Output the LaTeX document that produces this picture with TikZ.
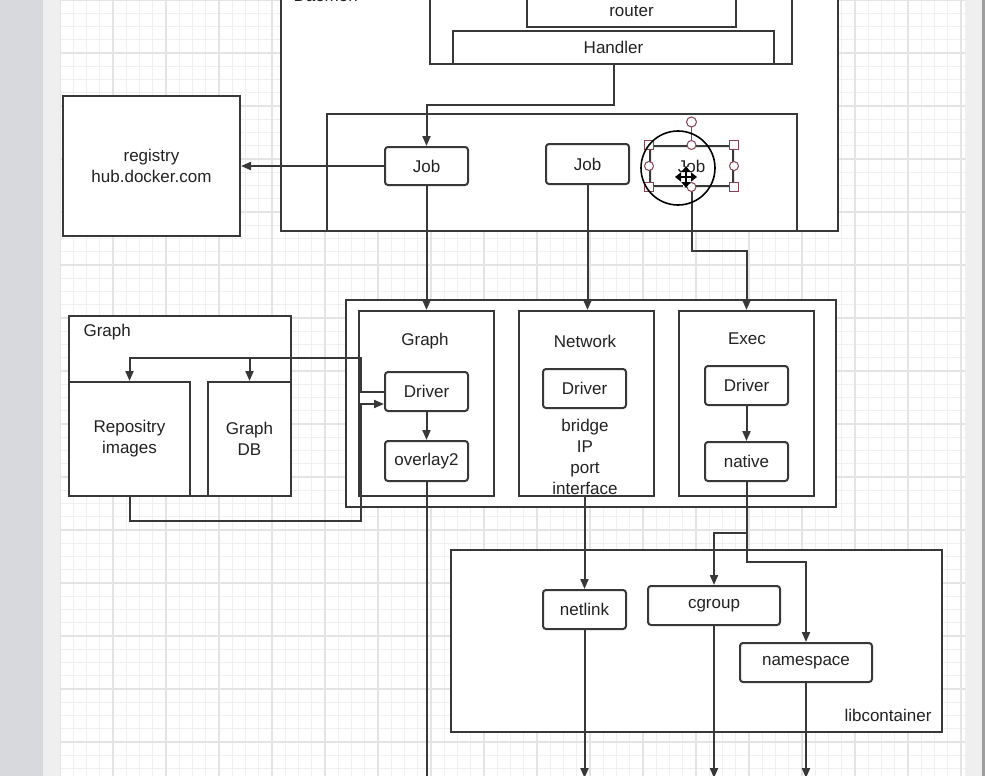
\documentclass[tikz,border=0pt]{standalone}
\usepackage{fontspec}
\setmainfont{Liberation Sans}
\usetikzlibrary{arrows.meta,calc}
\definecolor{ln}{HTML}{383838}
\definecolor{tx}{HTML}{222222}
\definecolor{hd}{HTML}{8A4050}
\definecolor{gminor}{HTML}{F0F0F0}
\definecolor{gmajor}{HTML}{E4E4E4}
\definecolor{sidegrey}{HTML}{D8D9DD}
\definecolor{strip}{HTML}{EFEFEF}
\begin{document}
\begin{tikzpicture}[x=1pt,y=-1pt,
  font=\fontsize{17}{21}\selectfont, text=tx,
  cont/.style={draw=ln, line width=2pt, fill=white, inner sep=0pt},
  box/.style={draw=ln, line width=2pt, fill=white, rounded corners=3pt, inner sep=0pt},
  wire/.style={draw=ln, line width=2pt},
  arr/.style={draw=ln, line width=2pt, -{Triangle[length=10pt,width=8pt]}},
  hsq/.style={draw=hd, fill=white, line width=1pt, minimum size=9pt, inner sep=0pt},
  hci/.style={draw=hd, fill=white, line width=1pt, circle, minimum size=9pt, inner sep=0pt}]
\useasboundingbox (0,0) rectangle (985,776);
\clip (0,0) rectangle (985,776);
% background
\fill[white] (0,0) rectangle (985,776);
\fill[sidegrey] (0,0) rectangle (43,776);
\fill[strip] (43,0) rectangle (60,776);
\fill[strip] (965,0) rectangle (982,776);
\fill[black!38] (982,0) rectangle (985,776);
\begin{scope}
\clip (60,0) rectangle (965,776);
\foreach \i in {0,...,68} {\draw[gminor, line width=0.8pt] ({60+13.25*\i},0) -- ++(0,776);}
\foreach \i in {0,...,59} {\draw[gminor, line width=0.8pt] (60,{13.25*\i}) -- ++(905,0);}
\foreach \i in {0,...,17} {\draw[gmajor, line width=1.1pt] ({60+53*\i},0) -- ++(0,776);}
\foreach \i in {0,...,14} {\draw[gmajor, line width=1.1pt] (60,{53*\i}) -- ++(905,0);}
\end{scope}

% Daemon
\node[cont, minimum width=557pt, minimum height=291pt] (daemon) at (559.5,85.5) {};
\node[anchor=base west] (daemonlbl) at (290,2) {Daemon};
\node[cont, minimum width=362pt, minimum height=104pt] (rcont) at (611,12) {};
\node[cont, minimum width=209pt, minimum height=47pt] (router) at (631.5,3.5) {};
\node (routerlbl) at (631.5,11) {router};
\node[cont, minimum width=321pt, minimum height=33pt] (handler) at (613.5,47.5) {Handler};
\node[cont, minimum width=470pt, minimum height=117pt] (jcont) at (562,172.5) {};
\node[box, minimum width=83pt, minimum height=38pt] (job1) at (426.5,166) {Job};
\node[box, minimum width=83pt, minimum height=40pt] (job2) at (587.5,164) {Job};
\node[box, minimum width=83pt, minimum height=40pt] (job3) at (691.5,166) {Job};

% registry
\node[cont, minimum width=177pt, minimum height=140pt, align=center] (registry) at (151.5,166) {registry\\hub.docker.com};

% left Graph container
\node[cont, minimum width=222pt, minimum height=180pt] (gcont) at (180,406) {};
\node[anchor=west] (gcontlbl) at (80,332) {Graph};
\node[cont, minimum width=121pt, minimum height=114pt, align=center] (repo) at (129.5,439) {Repositry\\images};
\node[cont, minimum width=83pt, minimum height=114pt, align=center] (gdb) at (249.5,439) {Graph\\DB};

% drivers container
\node[cont, minimum width=490pt, minimum height=207pt] (big) at (591,403.5) {};
\node[cont, minimum width=135pt, minimum height=185pt] (gbox) at (426.5,403.5) {};
\node[cont, minimum width=135pt, minimum height=185pt] (nbox) at (586.5,403.5) {};
\node[cont, minimum width=135pt, minimum height=185pt] (ebox) at (746.5,403.5) {};
\node (gtitle) at (425,341) {Graph};
\node (ntitle) at (585,341) {Network};
\node (etitle) at (747,339) {Exec};
\node[box, minimum width=83pt, minimum height=39pt] (gdriver) at (426.5,391.5) {Driver};
\node[box, minimum width=83pt, minimum height=40pt] (overlay) at (426.5,461) {overlay2};
\node[box, minimum width=83pt, minimum height=39pt] (ndriver) at (584.5,388.5) {Driver};
\node[align=center, inner sep=0pt] (nlist) at (585,457) {bridge\\IP\\port\\interface};
\node[box, minimum width=83pt, minimum height=39pt] (edriver) at (746.5,385.5) {Driver};
\node[box, minimum width=83pt, minimum height=39pt] (native) at (746.5,461.5) {native};

% libcontainer
\node[cont, minimum width=491pt, minimum height=182pt] (libc) at (696.5,641) {};
\node[anchor=east] (libclbl) at (935,715) {libcontainer};
\node[box, minimum width=83pt, minimum height=39pt] (netlink) at (584.5,609.5) {netlink};
\node[box, minimum width=132pt, minimum height=39pt] (cgroup) at (714,605.5) {cgroup};
\node[box, minimum width=132pt, minimum height=39pt] (ns) at (806,662.5) {namespace};

% connectors
\coordinate (bot) at (0,778);
\coordinate (j1) at (361,358);
\coordinate (j2) at (361,521);
\coordinate (j3) at (746.5,533);
\draw[arr] (handler.south) -- ++(0,40) -| (job1.north);
\draw[arr] (job1.west) -- (registry.east);
\draw[arr] (job1.south) -- (gbox.north);
\draw[arr] (job2.south) -- (job2.south |- nbox.north);
\draw[arr] (job3.south) -- ++(0,64) -| (ebox.north);
\draw[arr] (gdriver.west) -| (j1) -| (repo.north);
\draw[arr] (j1 -| gdb.north) -- (gdb.north);
\draw[arr] (repo.south) |- (j2) |- ($(gdriver.west)+(0,12.5)$);
\draw[arr] (gdriver.south) -- (overlay.north);
\draw[wire] (overlay.south) -- (overlay.south |- bot);
\draw[arr] (nbox.south -| netlink.north) -- (netlink.north);
\draw[arr] (edriver.south) -- (native.north);
\draw[arr] (native.south) -- (j3) -| (cgroup.north);
\draw[arr] (j3) -- ++(0,29) -| (ns.north);
\draw[arr] (netlink.south) -- (netlink.south |- bot);
\draw[arr] (cgroup.south) -- (cgroup.south |- bot);
\draw[arr] (ns.south) -- (ns.south |- bot);

% selection handles on job3
\coordinate (rot) at (691.5,122);
\draw[hd, line width=1pt] (rot) -- (job3.north);
\node[hci, minimum size=10pt] (roth) at (rot) {};
\node[hsq] (h1) at (job3.north west) {};
\node[hsq] (h2) at (job3.north east) {};
\node[hsq] (h3) at (job3.south west) {};
\node[hsq] (h4) at (job3.south east) {};
\node[hci] (h5) at (job3.north) {};
\node[hci] (h6) at (job3.west) {};
\node[hci] (h7) at (job3.east) {};
\node[hci] (h8) at (job3.south) {};
\draw[black, line width=1.6pt] (678,168) circle (37);
% move cursor
\begin{scope}[shift={(686,177)}]
\draw[white, line width=5.5pt] (-10,0) -- (10,0) (0,-10) -- (0,10);
\draw[black, line width=2.8pt, {Triangle[length=6pt,width=9pt]}-{Triangle[length=6pt,width=9pt]}] (-11,0) -- (11,0);
\draw[black, line width=2.8pt, {Triangle[length=6pt,width=9pt]}-{Triangle[length=6pt,width=9pt]}] (0,-11) -- (0,11);
\end{scope}
\end{tikzpicture}
\end{document}
